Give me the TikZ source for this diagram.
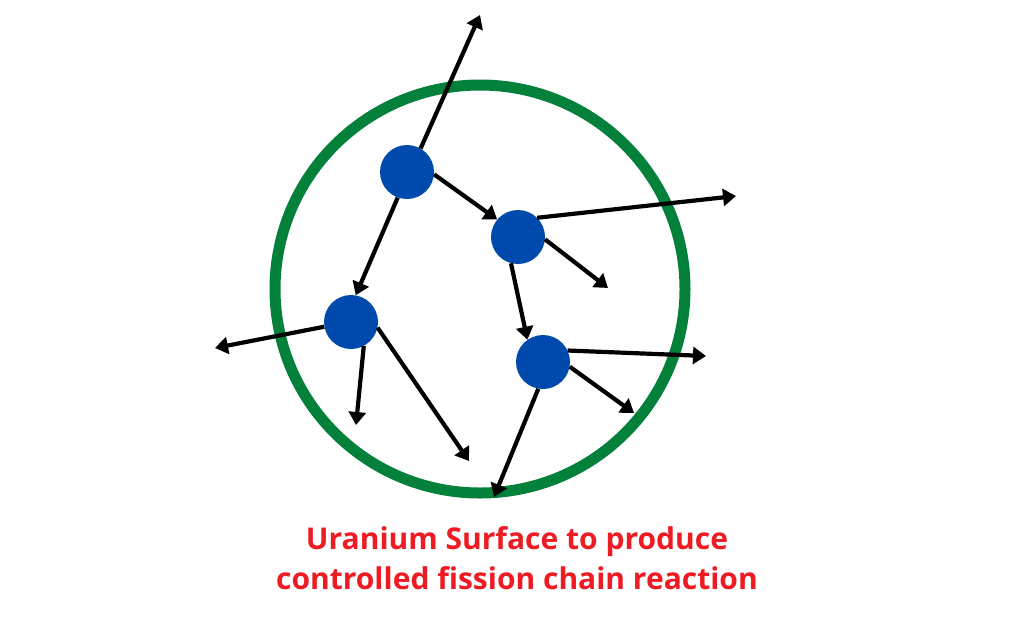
\documentclass[tikz,border=0pt]{standalone}
\usepackage{fontspec}
\setmainfont{Open Sans}
\usetikzlibrary{arrows.meta}

\definecolor{ringgreen}{RGB}{3,128,58}
\definecolor{nucblue}{RGB}{0,74,173}
\definecolor{textred}{RGB}{237,28,36}

\tikzset{
  nucleus/.style={circle, fill=nucblue, inner sep=0pt, minimum size=54pt},
  neutron/.style={line width=4.2pt, -{Triangle[length=13pt, width=17pt]}},
}

\begin{document}
\begin{tikzpicture}[x=1pt, y=-1pt]
\useasboundingbox (0,0) rectangle (1024,630);
% uranium surface
\draw[ringgreen, line width=11pt] (480,289) ellipse [x radius=205, y radius=204];
% nuclei
\node[nucleus] (n1) at (407,172) {};
\node[nucleus] (n2) at (518,237) {};
\node[nucleus] (n3) at (351,322) {};
\node[nucleus] (n4) at (543,362) {};
% free ends
\coordinate (e1) at (480,15);
\coordinate (e2) at (736,196);
\coordinate (e3) at (608,288);
\coordinate (e4) at (215,348);
\coordinate (e5) at (356,425);
\coordinate (e6) at (469,461);
\coordinate (e7) at (706,356);
\coordinate (e8) at (634,413);
\coordinate (e9) at (494,497);
% neutrons
\draw[neutron] (n1.60) -- (e1);
\draw[neutron] (n1.-5) -- (n2.140);
\draw[neutron] (n1.-110) -- (n3.80);
\draw[neutron] (n2.45) -- (e2);
\draw[neutron] (n2.-5) -- (e3);
\draw[neutron] (n2.-105) -- (n4.125);
\draw[neutron] (n3.190) -- (e4);
\draw[neutron] (n3.-62) -- (e5);
\draw[neutron] (n3.-12) -- (e6);
\draw[neutron] (n4.25) -- (e7);
\draw[neutron] (n4.-10) -- (e8);
\draw[neutron] (n4.-100) -- (e9);
% caption
\node[textred, font=\bfseries\fontsize{30}{40}\selectfont, align=center] (cap) at (517,558)
  {Uranium Surface to produce\\controlled fission chain reaction};
\end{tikzpicture}
\end{document}
